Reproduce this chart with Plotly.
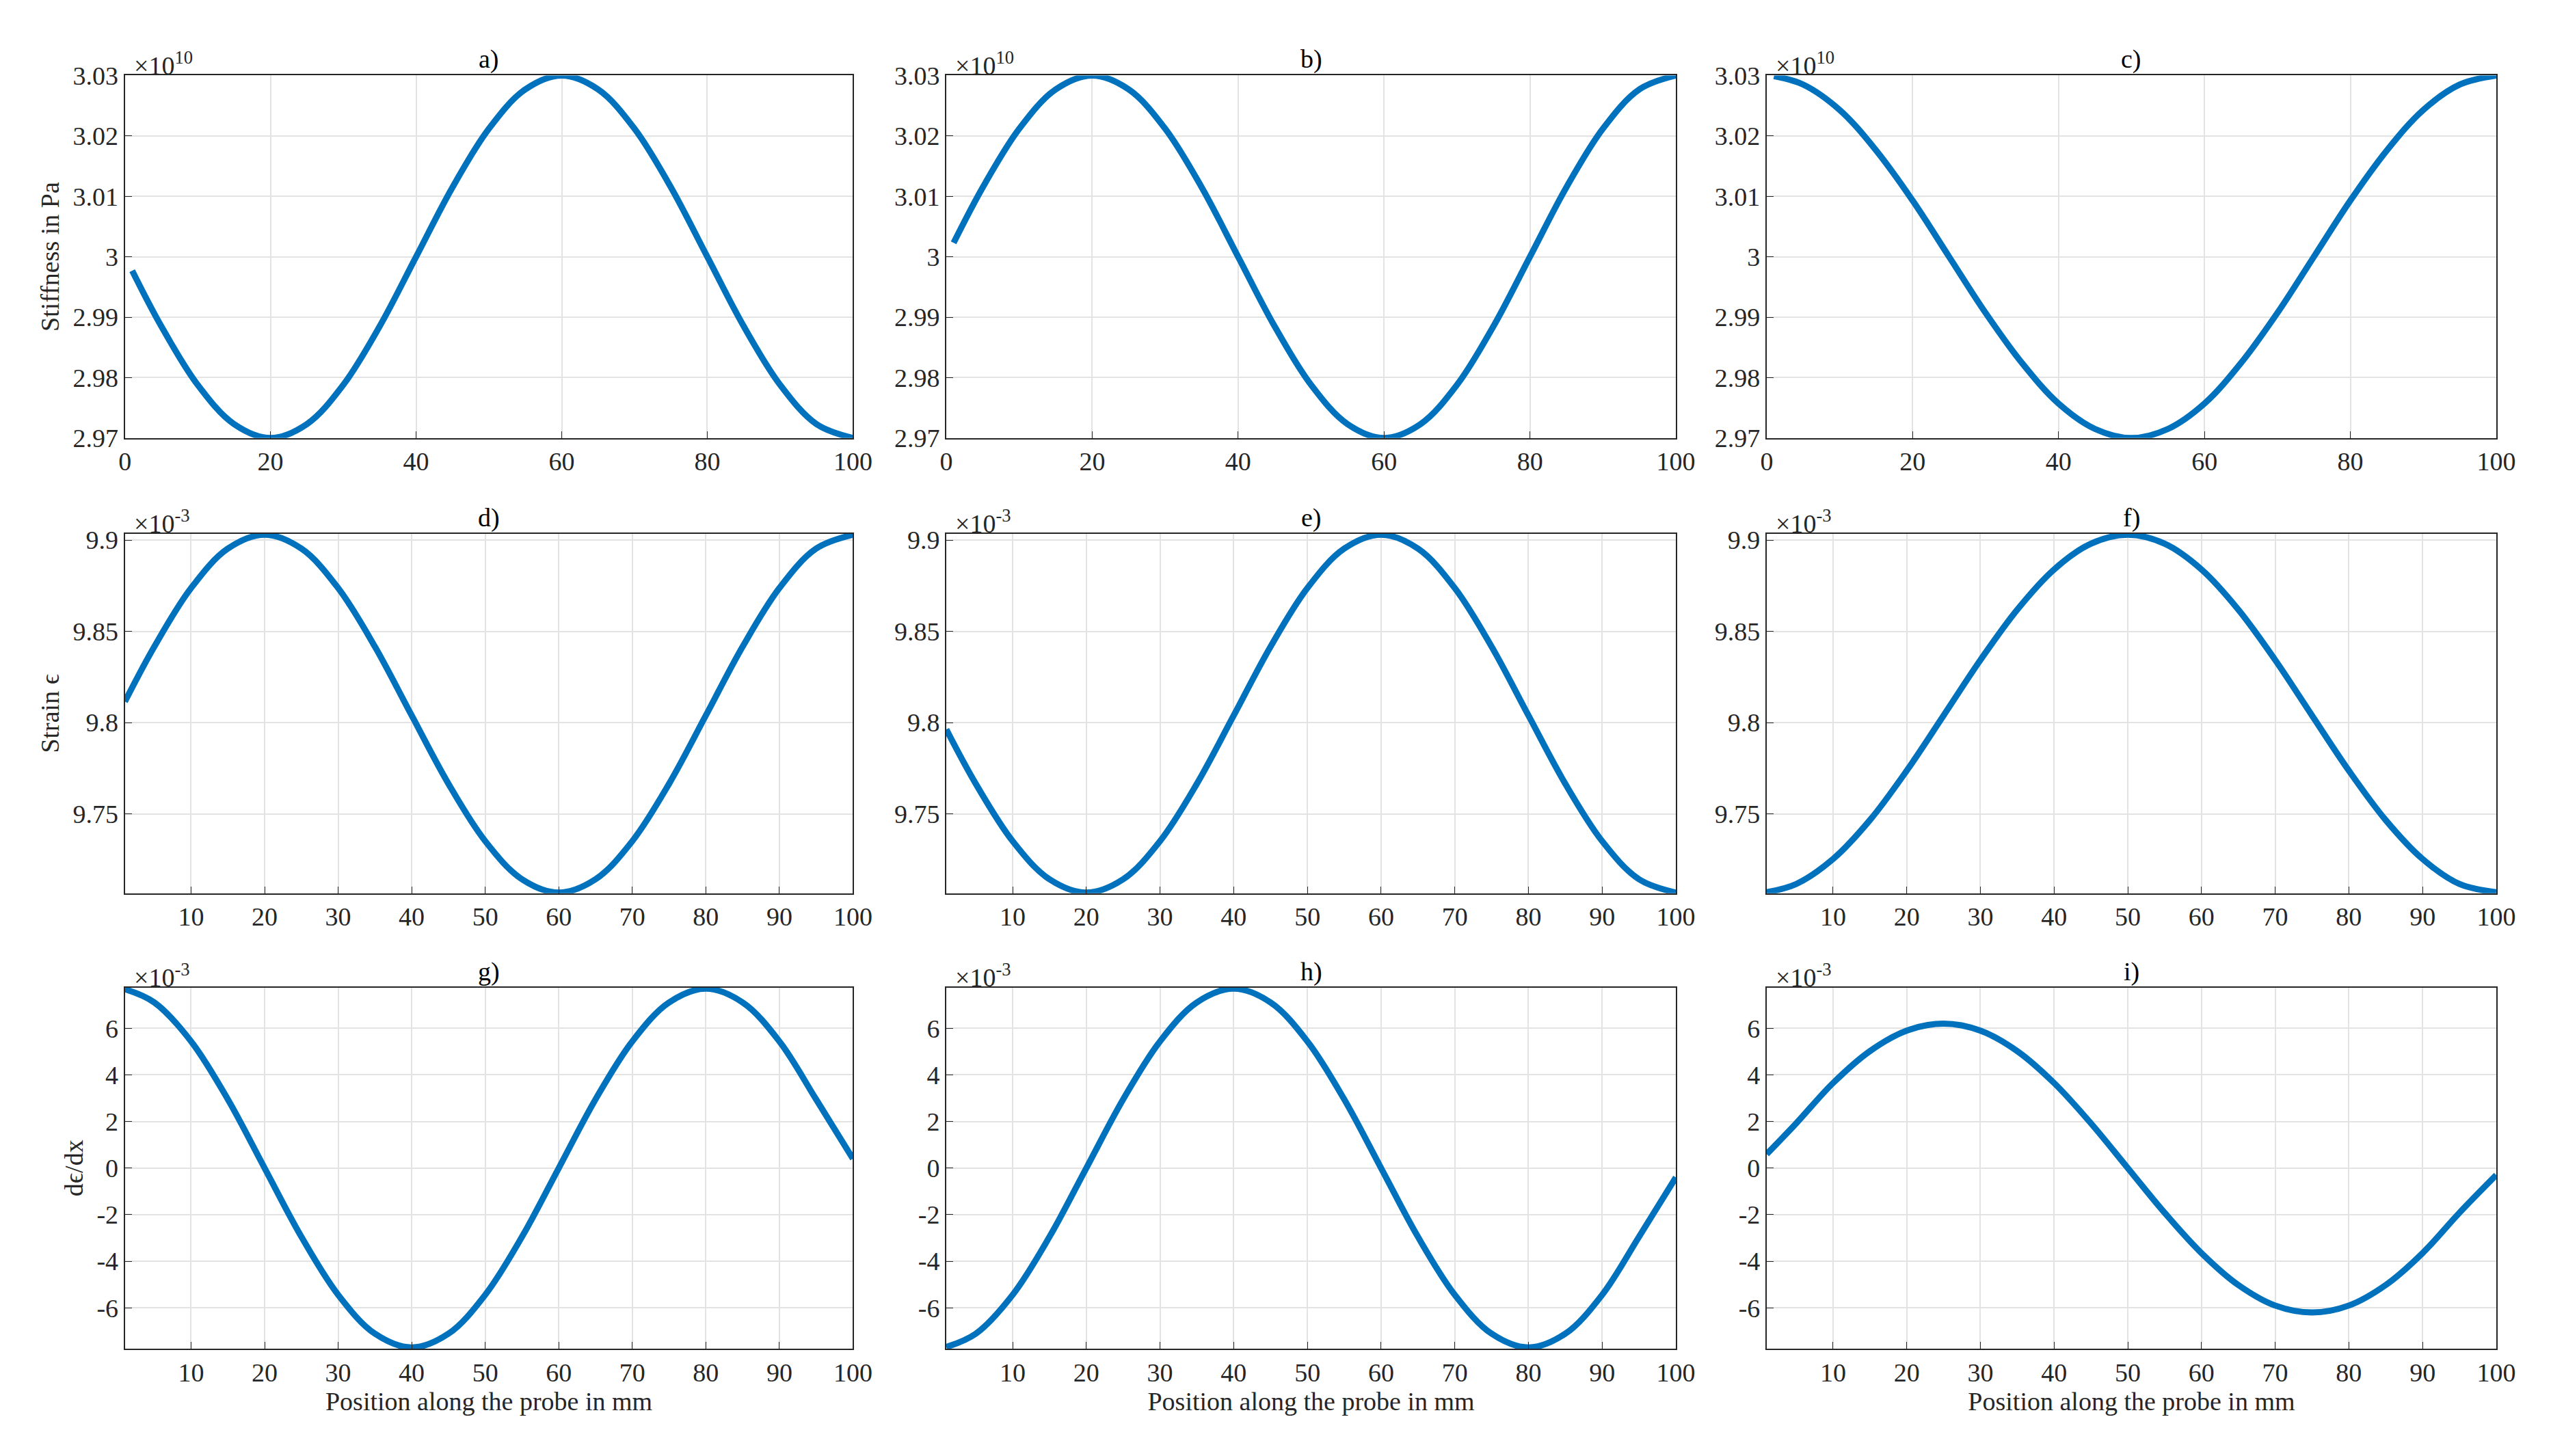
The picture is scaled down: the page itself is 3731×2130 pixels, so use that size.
import plotly.graph_objects as go

x = [1,5,10,15,20,25,30,35,40,45,50,55,60,65,70,75,80,85,90,95,100]
stiff_a = [2.9977,2.9885,2.9788,2.9723,2.97,2.9723,2.9788,2.9885,3.0,3.0115,3.0212,3.0277,3.03,3.0277,3.0212,3.0115,3.0,2.9885,2.9788,2.9723,2.97]
stiff_b = [3.0023,3.0115,3.0212,3.0277,3.03,3.0277,3.0212,3.0115,3.0,2.9885,2.9788,2.9723,2.97,2.9723,2.9788,2.9885,3.0,3.0115,3.0212,3.0277,3.03]
stiff_c = [3.0299,3.0285,3.0243,3.0176,3.0093,3.0,2.9907,2.9824,2.9757,2.9715,2.97,2.9715,2.9757,2.9824,2.9907,3.0,3.0093,3.0176,3.0243,3.0285,3.03]
strain_d = [9.8115,9.8416,9.8737,9.8953,9.9029,9.8953,9.8737,9.8416,9.8039,9.7665,9.7351,9.7142,9.7069,9.7142,9.7351,9.7665,9.8039,9.8416,9.8737,9.8953,9.9029]
strain_e = [9.7963,9.7665,9.7351,9.7142,9.7069,9.7142,9.7351,9.7665,9.8039,9.8416,9.8737,9.8953,9.9029,9.8953,9.8737,9.8416,9.8039,9.7665,9.7351,9.7142,9.7069]
strain_f = [9.7071,9.7116,9.7253,9.7466,9.7737,9.8039,9.8343,9.8619,9.8839,9.8980,9.9029,9.8980,9.8839,9.8619,9.8343,9.8039,9.7737,9.7466,9.7253,9.7116,9.7071]
deriv_g = [7.68,7.11,5.44,2.95,0,-2.95,-5.44,-7.11,-7.7,-7.11,-5.44,-2.95,0,2.95,5.44,7.11,7.7,7.11,5.44,2.95,0.4]
deriv_h = [-7.68,-7.11,-5.44,-2.95,0,2.95,5.44,7.11,7.7,7.11,5.44,2.95,0,-2.95,-5.44,-7.11,-7.7,-7.11,-5.44,-2.95,-0.4]
deriv_i = [0.6,1.92,3.65,5.02,5.90,6.2,5.90,5.02,3.65,1.92,0,-1.92,-3.65,-5.02,-5.90,-6.2,-5.90,-5.02,-3.65,-1.92,-0.3]
titles = ["a)","b)","c)","d)","e)","f)","g)","h)","i)"]
series = [stiff_a,stiff_b,stiff_c,strain_d,strain_e,strain_f,deriv_g,deriv_h,deriv_i]
ylabels = ["Stiffness in Pa","Strain \u03f5","d\u03f5/dx"]
exps = ["\u00d710<sup>10</sup>","\u00d710<sup>-3</sup>","\u00d710<sup>-3</sup>"]
row_ticks = [
    ([2.97,2.98,2.99,3.0,3.01,3.02,3.03],["2.97","2.98","2.99","3","3.01","3.02","3.03"],[2.97,3.03]),
    ([9.75,9.8,9.85,9.9],["9.75","9.8","9.85","9.9"],[9.7065,9.9035]),
    ([-6,-4,-2,0,2,4,6],["-6","-4","-2","0","2","4","6"],[-7.75,7.75]),
]
row_xticks = [
    ([0,20,40,60,80,100],[0,100]),
    ([10,20,30,40,50,60,70,80,90,100],[1,100]),
    ([10,20,30,40,50,60,70,80,90,100],[1,100]),
]
xdom = [[0.0446,0.333],[0.370,0.659],[0.695,0.984]]
ydom = [[0.707,0.961],[0.388,0.640],[0.069,0.322]]

FONT = "Liberation Serif"
fig = go.Figure()
layout = {}
anns = []
for k in range(9):
    r, c = divmod(k, 3)
    n = k + 1
    xa = "x" if n == 1 else f"x{n}"
    ya = "y" if n == 1 else f"y{n}"
    fig.add_trace(go.Scatter(x=x, y=series[k], mode="lines", line=dict(color="#0072BD", width=9, shape="spline"),
                             xaxis=xa, yaxis=ya, showlegend=False))
    common = dict(showline=True, mirror=True, linecolor="#262626", linewidth=2, ticks="inside", ticklen=10,
                  tickcolor="#262626", showgrid=True, gridcolor="#E3E3E3", gridwidth=2, zeroline=False,
                  tickfont=dict(family=FONT, size=38, color="#262626"))
    xt, xr = row_xticks[r]
    xd = dict(common, domain=xdom[c], range=xr, tickvals=xt, anchor=ya)
    if r == 2:
        xd["title"] = dict(text="Position along the probe in mm", font=dict(family=FONT, size=38, color="#262626"), standoff=6)
    layout["xaxis" if n == 1 else f"xaxis{n}"] = xd
    yt, ytt, yr = row_ticks[r]
    yd = dict(common, domain=ydom[r], range=yr, tickvals=yt, ticktext=ytt, anchor=xa)
    if c == 0:
        yd["title"] = dict(text=ylabels[r], font=dict(family=FONT, size=38, color="#262626"), standoff=8)
    layout["yaxis" if n == 1 else f"yaxis{n}"] = yd
    anns.append(dict(text=titles[k], xref="paper", yref="paper", x=sum(xdom[c]) / 2, y=ydom[r][1], yanchor="bottom",
                     xanchor="center", showarrow=False, font=dict(family=FONT, size=38, color="#000")))
    anns.append(dict(text=exps[r], xref="paper", yref="paper", x=xdom[c][0] + 0.003, y=ydom[r][1] - 0.004, yanchor="bottom",
                     xanchor="left", showarrow=False, font=dict(family=FONT, size=38, color="#262626")))
fig.update_layout(**layout, annotations=anns, width=3731, height=2130, paper_bgcolor="white", plot_bgcolor="white",
                  margin=dict(l=0, r=0, t=0, b=0))
fig.write_html("out.html")
